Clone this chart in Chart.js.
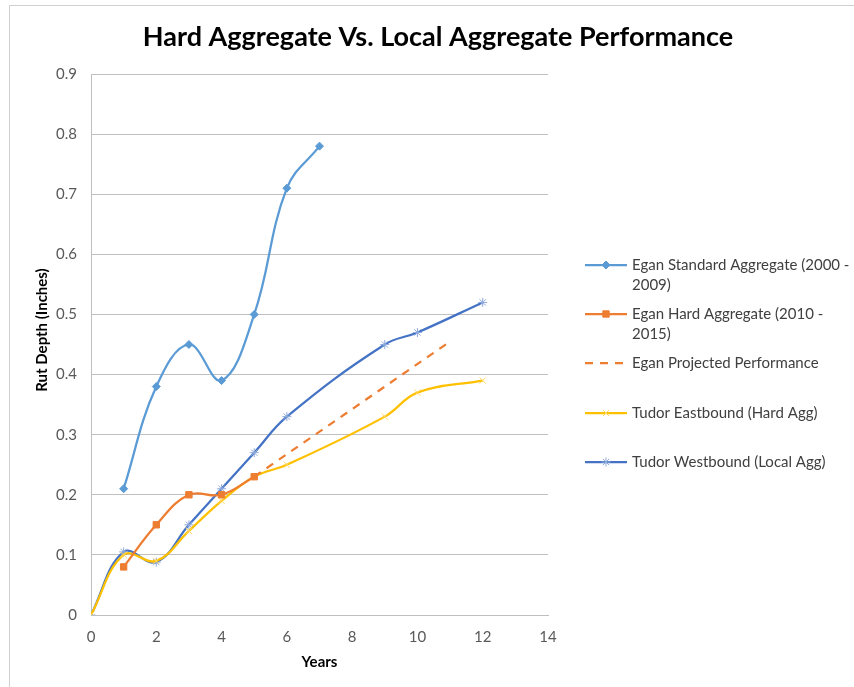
<!DOCTYPE html>
<html>
<head>
<meta charset="utf-8">
<script src="https://cdn.jsdelivr.net/npm/chart.js@4.4.1/dist/chart.umd.min.js"></script>
<style>
  html, body { margin: 0; padding: 0; background: #fff; }
  #wrap { position: relative; width: 854px; height: 687px; }
  #frame { position: absolute; left: 9px; top: 5px; right: 0; bottom: 0;
           border-left: 1px solid #d0d0d0; border-top: 1px solid #d0d0d0; }
  canvas { position: absolute; left: 0; top: 0; }
</style>
</head>
<body>
<div id="wrap">
  <div id="frame"></div>
  <canvas id="myChart" width="854" height="687"></canvas>
</div>
<script>
// data: [years, rut depth in inches]
const eganStdX = [1, 2, 3, 4, 5, 6, 7];
const eganStdY = [0.21, 0.38, 0.45, 0.39, 0.50, 0.71, 0.78];

const eganHardX = [1, 2, 3, 4, 5];
const eganHardY = [0.08, 0.15, 0.20, 0.20, 0.23];

const eganProjX = [5, 11];
const eganProjY = [0.23, 0.455];

const tudorEastX = [0, 1, 2, 3, 4, 5, 6, 9, 10, 12];
const tudorEastY = [0, 0.10, 0.09, 0.14, 0.19, 0.23, 0.25, 0.33, 0.37, 0.39];

const tudorWestX = [0, 1, 2, 3, 4, 5, 6, 9, 10, 12];
const tudorWestY = [0, 0.105, 0.088, 0.15, 0.21, 0.27, 0.33, 0.45, 0.47, 0.52];

const seriesNames = [
  ['Egan Standard Aggregate (2000 -', '2009)'],
  ['Egan Hard Aggregate (2010 -', '2015)'],
  ['Egan Projected Performance'],
  ['Tudor Eastbound (Hard Agg)'],
  ['Tudor Westbound (Local Agg)'],
];

const xTicks = [0, 2, 4, 6, 8, 10, 12, 14];
const yTicks = [0, 0.1, 0.2, 0.3, 0.4, 0.5, 0.6, 0.7, 0.8, 0.9];

const chartTitle = 'Hard Aggregate Vs. Local Aggregate Performance';
const yTitle = 'Rut Depth (Inches)';

const FONT = 'Lato, "Open Sans", sans-serif';

function pts(xs, ys) {
  return xs.map((x, i) => ({ x: x, y: ys[i] }));
}

// title, y-axis title and the legend at the right (two-line labels)
const decorations = {
  id: 'decorations',
  afterDraw(chart) {
    const ctx = chart.ctx;
    ctx.save();

    ctx.fillStyle = '#000';
    ctx.textAlign = 'center';
    ctx.textBaseline = 'middle';
    ctx.font = 'bold 27px ' + FONT;
    ctx.fillText(chartTitle, 438, 37);

    ctx.save();
    ctx.translate(42, 330);
    ctx.rotate(-Math.PI / 2);
    ctx.font = 'bold 15px ' + FONT;
    ctx.fillText(yTitle, 0, 0);
    ctx.restore();

    const rows = [265, 314, 363, 413, 462];
    chart.data.datasets.forEach((ds, i) => {
      const y = rows[i];
      ctx.strokeStyle = ds.borderColor;
      ctx.lineWidth = 2.25;
      ctx.setLineDash(ds.borderDash || []);
      ctx.beginPath();
      ctx.moveTo(585, y);
      ctx.lineTo(627, y);
      ctx.stroke();
      ctx.setLineDash([]);
      if (ds.pointStyle && ds.pointRadius > 0) {
        ctx.fillStyle = ds.pointBackgroundColor;
        ctx.strokeStyle = ds.pointBorderColor;
        ctx.lineWidth = ds.pointBorderWidth;
        Chart.helpers.drawPoint(ctx, {
          pointStyle: ds.pointStyle, radius: ds.pointRadius,
          borderWidth: ds.pointBorderWidth, rotation: 0
        }, 606, y);
      }
      ctx.fillStyle = '#404040';
      ctx.font = '15px ' + FONT;
      ctx.textBaseline = 'middle';
      ctx.textAlign = 'left';
      seriesNames[i].forEach((line, j) => {
        ctx.fillText(line, 632, y + j * 20);
      });
    });
    ctx.restore();
  }
};

const config = {
  type: 'line',
  data: {
    datasets: [
      {
        label: seriesNames[0].join(' '),
        data: pts(eganStdX, eganStdY),
        borderColor: '#5B9BD5',
        pointStyle: 'rectRot',
        pointRadius: 4,
        pointBackgroundColor: '#5B9BD5',
        pointBorderColor: '#5B9BD5',
        pointBorderWidth: 1,
      },
      {
        label: seriesNames[1].join(' '),
        data: pts(eganHardX, eganHardY),
        borderColor: '#ED7D31',
        pointStyle: 'rect',
        pointRadius: 4.5,
        pointBackgroundColor: '#ED7D31',
        pointBorderColor: '#ED7D31',
        pointBorderWidth: 1,
      },
      {
        label: seriesNames[2][0],
        data: pts(eganProjX, eganProjY),
        borderColor: '#ED7D31',
        borderDash: [8, 7],
        pointRadius: 0,
        tension: 0,
      },
      {
        label: seriesNames[3][0],
        data: pts(tudorEastX, tudorEastY),
        borderColor: '#FFC000',
        pointStyle: 'crossRot',
        pointRadius: 4.5,
        pointBackgroundColor: '#FFD966',
        pointBorderColor: '#FFD966',
        pointBorderWidth: 1,
      },
      {
        label: seriesNames[4][0],
        data: pts(tudorWestX, tudorWestY),
        borderColor: '#4472C4',
        pointStyle: 'star',
        pointRadius: 4.5,
        pointBackgroundColor: '#8FAADC',
        pointBorderColor: '#8FAADC',
        pointBorderWidth: 1,
      },
    ]
  },
  options: {
    responsive: false,
    animation: false,
    layout: { padding: { left: 0, right: 306, top: 74, bottom: 0 } },
    elements: {
      line: { borderWidth: 2.25, tension: 0.4, fill: false },
    },
    plugins: {
      legend: { display: false },
      tooltip: { enabled: false },
      title: { display: false },
    },
    scales: {
      x: {
        type: 'linear',
        min: 0,
        max: 14,
        afterBuildTicks: (s) => { s.ticks = xTicks.map(v => ({ value: v })); },
        afterFit: (s) => { s.height = 72; },
        ticks: { color: '#595959', font: { family: FONT, size: 15 }, padding: 13, maxRotation: 0 },
        grid: { display: false, drawTicks: false },
        border: { color: '#bfbfbf', width: 1 },
        title: {
          display: true, text: 'Years', color: '#000',
          font: { family: FONT, size: 15, weight: 'bold' },
          padding: { top: 0, bottom: 16 }
        }
      },
      y: {
        type: 'linear',
        min: 0,
        max: 0.9,
        afterBuildTicks: (s) => { s.ticks = yTicks.map(v => ({ value: v })); },
        afterFit: (s) => { s.width = 91; },
        ticks: {
          color: '#595959', font: { family: FONT, size: 15 }, padding: 14,
          callback: (v) => String(Math.round(v * 10) / 10)
        },
        grid: { color: '#c0c0c0', lineWidth: 1, drawTicks: false },
        border: { color: '#bfbfbf', width: 1 },
      }
    }
  },
  plugins: [decorations]
};

const myChart = new Chart(document.getElementById('myChart').getContext('2d'), config);
</script>
</body>
</html>
